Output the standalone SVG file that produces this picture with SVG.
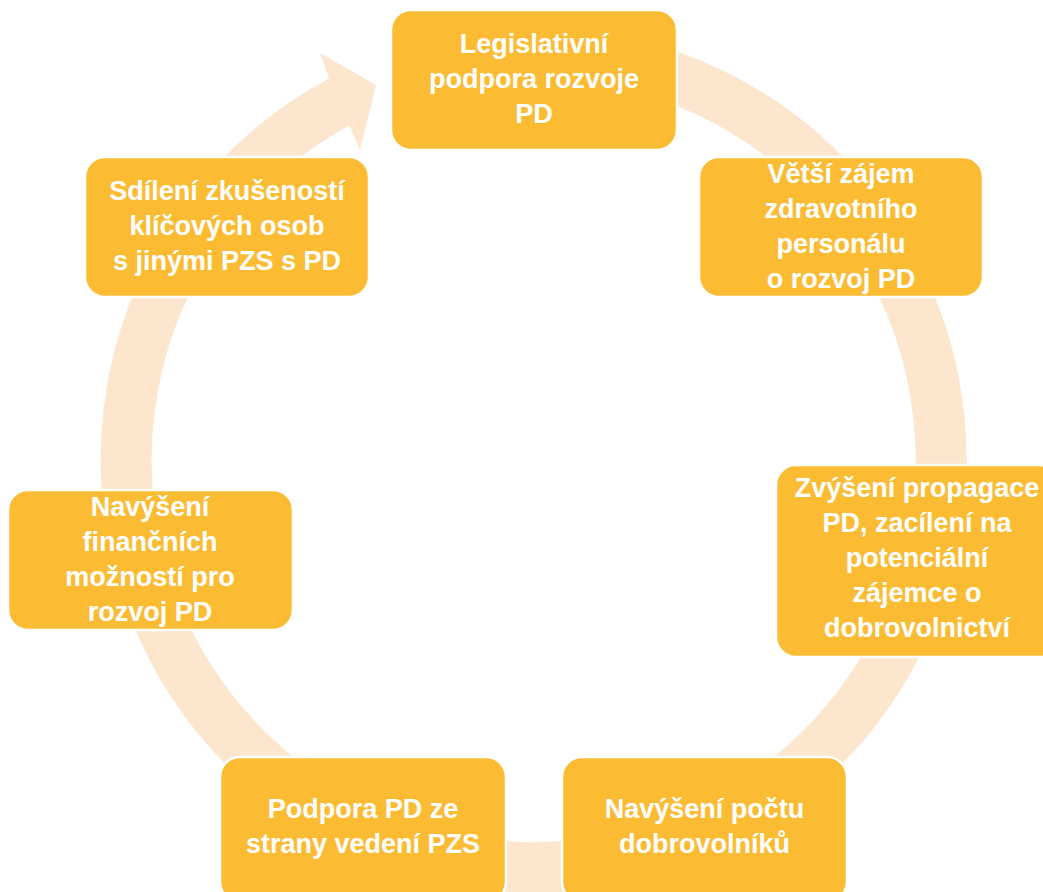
<svg xmlns="http://www.w3.org/2000/svg" width="1043" height="892" viewBox="0 0 1043 892">
<style>
.box{fill:#FBBC34;stroke:#FFFFFF;stroke-width:2.5}
.t{font-family:"Liberation Sans",Arial,sans-serif;font-weight:bold;font-size:27px;fill:#FFFFFF;text-anchor:middle}
.ring{fill:none;stroke:#FDE6CE;stroke-width:51}
.head{fill:#FDE6CE}
</style>
<rect width="1043" height="892" fill="#FFFFFF"/>
<g id="connectors">
<path class="ring" d="M533,52.5 A407.5,407.5 0 1 1 342.3,100.2"/>
<polygon class="head" points="329,78 320,53 376,85 360,150 350,127"/>
</g>
<g id="n1">
<rect class="box" x="391" y="10" width="286" height="140" rx="20"/>
<text class="t" x="534" y="53">Legislativní</text>
<text class="t" x="534" y="88">podpora rozvoje</text>
<text class="t" x="534" y="123">PD</text>
</g>
<g id="n2">
<rect class="box" x="699" y="157" width="284" height="140" rx="20"/>
<text class="t" x="841" y="183">Větší zájem</text>
<text class="t" x="841" y="218">zdravotního</text>
<text class="t" x="841" y="253">personálu</text>
<text class="t" x="841" y="288">o rozvoj PD</text>
</g>
<g id="n3">
<rect class="box" x="776" y="465" width="284" height="192" rx="20"/>
<text class="t" x="917" y="497">Zvýšení propagace</text>
<text class="t" x="917" y="532">PD, zacílení na</text>
<text class="t" x="917" y="567">potenciální</text>
<text class="t" x="917" y="602">zájemce o</text>
<text class="t" x="917" y="637">dobrovolnictví</text>
</g>
<g id="n4">
<rect class="box" x="562" y="757" width="285" height="145" rx="20"/>
<text class="t" x="704.5" y="818">Navýšení počtu</text>
<text class="t" x="704.5" y="853">dobrovolníků</text>
</g>
<g id="n5">
<rect class="box" x="220" y="757" width="286" height="145" rx="20"/>
<text class="t" x="363" y="818">Podpora PD ze</text>
<text class="t" x="363" y="853">strany vedení PZS</text>
</g>
<g id="n6">
<rect class="box" x="8" y="490" width="285" height="140" rx="20"/>
<text class="t" x="150" y="516">Navýšení</text>
<text class="t" x="150" y="551">finančních</text>
<text class="t" x="150" y="586">možností pro</text>
<text class="t" x="150" y="621">rozvoj PD</text>
</g>
<g id="n7">
<rect class="box" x="85" y="157" width="284" height="140" rx="20"/>
<text class="t" x="227" y="200">Sdílení zkušeností</text>
<text class="t" x="227" y="235">klíčových osob</text>
<text class="t" x="227" y="270">s jinými PZS s PD</text>
</g>
</svg>
